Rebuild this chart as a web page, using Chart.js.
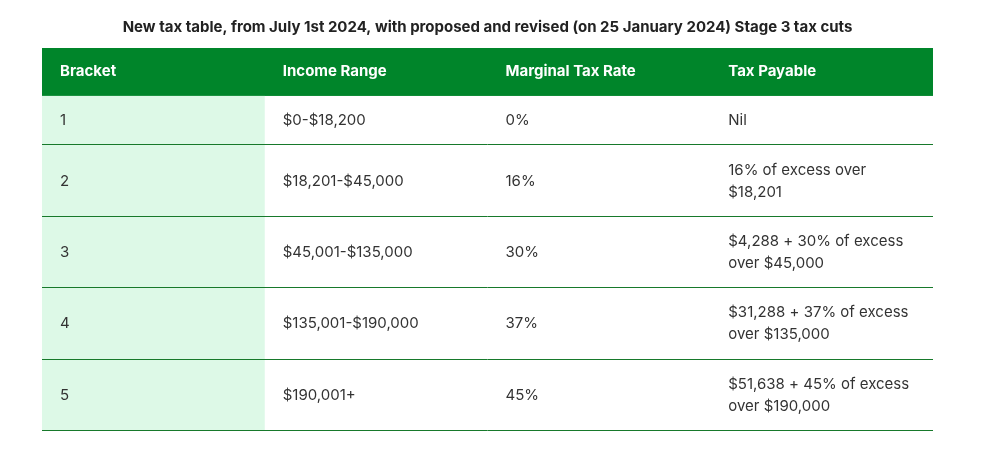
<!DOCTYPE html>
<html>
<head>
<meta charset="utf-8">
<script src="https://cdn.jsdelivr.net/npm/chart.js@4.4.1/dist/chart.umd.min.js"></script>
<style>
  html, body { margin: 0; padding: 0; background: #ffffff; }
  #wrap { width: 990px; height: 475px; position: relative; }
</style>
</head>
<body>
<div id="wrap"><canvas id="c"></canvas></div>
<script>
// ---- Data ----
const titleText = 'New tax table, from July 1st 2024, with proposed and revised (on 25 January 2024) Stage 3 tax cuts';
const columns = ['Bracket', 'Income Range', 'Marginal Tax Rate', 'Tax Payable'];
const brackets = ['1', '2', '3', '4', '5'];
const incomeRanges = ['$0-$18,200', '$18,201-$45,000', '$45,001-$135,000', '$135,001-$190,000', '$190,001+'];
const marginalRates = [0, 16, 30, 37, 45];
const taxPayable = [
  ['Nil'],
  ['16% of excess over', '$18,201'],
  ['$4,288 + 30% of excess', 'over $45,000'],
  ['$31,288 + 37% of excess', 'over $135,000'],
  ['$51,638 + 45% of excess', 'over $190,000']
];

// ---- Styles ----
const HEADER_BG = '#00852a';
const FIRST_COL_BG = '#ddf9e7';
const RULE = '#17792b';
const TEXT = '#333333';
const LINE_H = 22;      // text line height (px units)
const ROW_PAD = 27.5;   // vertical padding per row
const HEADER_H = 48;
const CELL_PAD_X = 18;

// Build table rows from the data arrays
const bodyRows = brackets.map((b, i) => [
  [b],
  [incomeRanges[i]],
  [marginalRates[i] + '%'],
  taxPayable[i]
]);

// Row edges in the y-scale unit, derived from line counts
const rowEdges = [0, HEADER_H];
bodyRows.forEach(r => {
  const lines = Math.max(...r.map(c => c.length));
  rowEdges.push(rowEdges[rowEdges.length - 1] + ROW_PAD + lines * LINE_H);
});
const totalH = rowEdges[rowEdges.length - 1];

const tablePlugin = {
  id: 'tablePlugin',
  beforeDatasetsDraw(chart) {
    const ctx = chart.ctx;
    const xs = chart.scales.x, ys = chart.scales.y;
    const x0 = xs.getPixelForValue(0), x1 = xs.getPixelForValue(columns.length);
    ctx.save();
    // header background
    const hTop = ys.getPixelForValue(rowEdges[0]);
    const hBot = ys.getPixelForValue(rowEdges[1]);
    ctx.fillStyle = HEADER_BG;
    ctx.fillRect(x0, hTop, x1 - x0, hBot - hTop);
    // first column background for body rows
    const c1 = xs.getPixelForValue(1);
    const bBot = ys.getPixelForValue(totalH);
    ctx.fillStyle = FIRST_COL_BG;
    ctx.fillRect(x0, hBot, c1 - x0, bBot - hBot);
    // row rules
    ctx.strokeStyle = RULE;
    ctx.lineWidth = 1;
    for (let i = 2; i < rowEdges.length; i++) {
      const y = Math.round(ys.getPixelForValue(rowEdges[i])) - 0.5;
      ctx.beginPath();
      ctx.moveTo(x0, y);
      ctx.lineTo(x1, y);
      ctx.stroke();
    }
    ctx.restore();
  },
  afterDatasetsDraw(chart) {
    const ctx = chart.ctx;
    const xs = chart.scales.x, ys = chart.scales.y;
    ctx.save();
    ctx.textBaseline = 'middle';
    ctx.textAlign = 'left';
    // header
    ctx.fillStyle = '#ffffff';
    ctx.font = '700 15px Inter, "DejaVu Sans", sans-serif';
    const hMid = ys.getPixelForValue((rowEdges[0] + rowEdges[1]) / 2);
    columns.forEach((c, i) => {
      ctx.fillText(c, xs.getPixelForValue(i) + CELL_PAD_X, hMid);
    });
    // body
    ctx.fillStyle = TEXT;
    ctx.font = '400 15px Inter, "DejaVu Sans", sans-serif';
    bodyRows.forEach((row, r) => {
      const mid = (rowEdges[r + 1] + rowEdges[r + 2]) / 2;
      row.forEach((lines, ci) => {
        const start = mid - (lines.length - 1) * LINE_H / 2;
        lines.forEach((t, li) => {
          ctx.fillText(t, xs.getPixelForValue(ci) + CELL_PAD_X, ys.getPixelForValue(start + li * LINE_H));
        });
      });
    });
    ctx.restore();
  }
};

new Chart(document.getElementById('c'), {
  type: 'scatter',
  data: { datasets: [{ data: [] }] },
  options: {
    responsive: true,
    maintainAspectRatio: false,
    animation: false,
    layout: { padding: { left: 42, right: 57, top: 0, bottom: 44 } },
    scales: {
      x: { type: 'linear', min: 0, max: columns.length, display: false },
      y: { type: 'linear', min: 0, max: totalH, reverse: true, display: false }
    },
    plugins: {
      legend: { display: false },
      tooltip: { enabled: false },
      title: {
        display: true,
        text: titleText,
        color: '#222222',
        font: { family: 'Inter, "DejaVu Sans", sans-serif', size: 15, weight: '700' },
        padding: { top: 18, bottom: 12 }
      }
    }
  },
  plugins: [tablePlugin]
});
</script>
</body>
</html>
